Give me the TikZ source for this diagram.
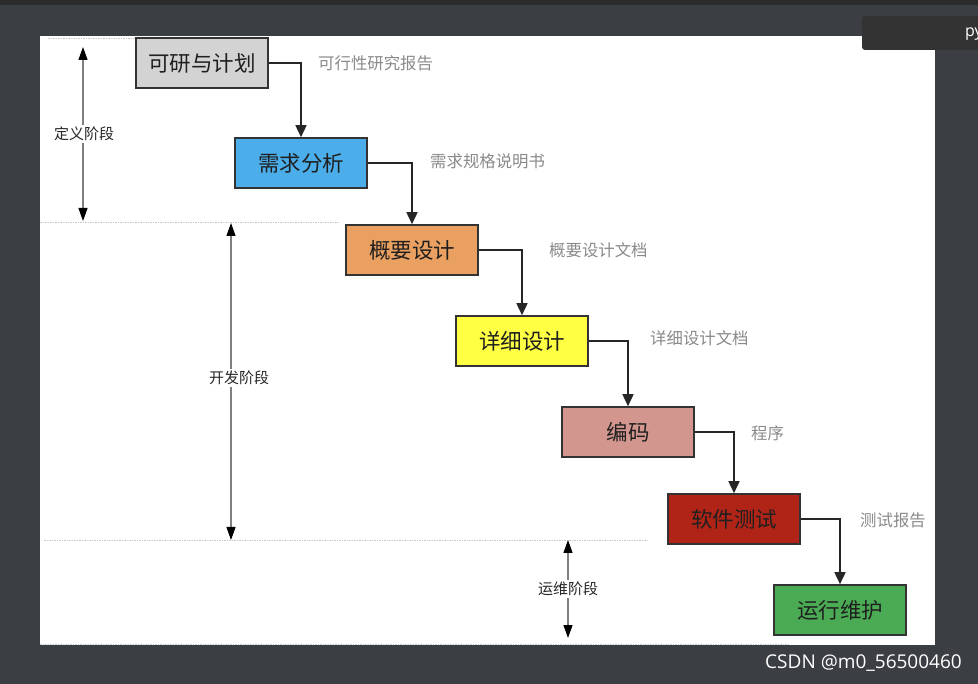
\documentclass[tikz,border=0pt]{standalone}
\usepackage{fontspec}
\newfontfamily\cjk{Noto Sans CJK SC}
\newfontfamily\wmfont{Open Sans}
\usetikzlibrary{arrows.meta}
\definecolor{bgdark}{HTML}{3B3E43}
\definecolor{topstrip}{HTML}{2B2B2B}
\definecolor{tabcol}{HTML}{333333}
\definecolor{cgray}{HTML}{D3D3D3}
\definecolor{cblue}{HTML}{4BADE9}
\definecolor{corange}{HTML}{EAA060}
\definecolor{cyellow}{HTML}{FFFF44}
\definecolor{cpink}{HTML}{D3968F}
\definecolor{cred}{HTML}{B02418}
\definecolor{cgreen}{HTML}{4BAB55}
\definecolor{lblgray}{HTML}{8A8A8A}
\definecolor{dashgray}{HTML}{C8C8C8}
\tikzset{
  stagebox/.style={draw=black!80, line width=1.6pt, minimum width=132pt, minimum height=50pt,
    inner sep=0pt, font=\cjk\fontsize{21.5}{21.5}\selectfont, text=black!88},
  docl/.style={font=\cjk\fontsize{16.4}{16.4}\selectfont, text=lblgray, anchor=west, inner sep=0pt},
  flow/.style={draw=black!85, line width=1.6pt, -{Triangle[width=11pt,length=12pt]}},
  phase/.style={draw=black!50, line width=1.2pt, {Triangle[width=9pt,length=13pt,fill=black,color=black]}-{Triangle[width=9pt,length=13pt,fill=black,color=black]}},
  phasel/.style={font=\cjk\fontsize{15}{15}\selectfont, fill=white, inner sep=2pt, text=black!85},
  sep/.style={draw=dashgray, line width=0.8pt, dash pattern=on 1.5pt off 1pt}
}
\begin{document}
\begin{tikzpicture}[x=1pt,y=-1pt]
\useasboundingbox (0,0) rectangle (978,684);
\fill[bgdark] (0,0) rectangle (978,684);
\fill[topstrip] (0,0) rectangle (978,5);
\fill[white] (40,36) rectangle (935,645);
\fill[tabcol, rounded corners=3pt] (862,16) rectangle (990,50);
\node[font=\wmfont\fontsize{16}{16}\selectfont, text=white!80, anchor=west, inner sep=0pt] (tabtxt) at (965,34) {py};

% separators
\draw[sep] (48,38) -- (135,38);
\draw[sep] (40,222) -- (338,222);
\draw[sep] (44,540) -- (648,540);
\draw[sep] (40,644) -- (790,644);

% stage boxes
\node[stagebox, fill=cgray]   (s1) at (202,63)  {可研与计划};
\node[stagebox, fill=cblue]   (s2) at (301,163) {需求分析};
\node[stagebox, fill=corange] (s3) at (412,250) {概要设计};
\node[stagebox, fill=cyellow] (s4) at (522,341) {详细设计};
\node[stagebox, fill=cpink]   (s5) at (628,432) {编码};
\node[stagebox, fill=cred]    (s6) at (734,519) {软件测试};
\node[stagebox, fill=cgreen]  (s7) at (840,610) {运行维护};

% flow arrows
\draw[flow] (s1.east) -| (s2.north);
\draw[flow] (s2.east) -| (s3.north);
\draw[flow] (s3.east) -| (s4.north);
\draw[flow] (s4.east) -| (s5.north);
\draw[flow] (s5.east) -| (s6.north);
\draw[flow] (s6.east) -| (s7.north);

% documents
\node[docl] (d1) at (318,63)  {可行性研究报告};
\node[docl] (d2) at (430,161) {需求规格说明书};
\node[docl] (d3) at (549,250) {概要设计文档};
\node[docl] (d4) at (650,338) {详细设计文档};
\node[docl] (d5) at (751,433) {程序};
\node[docl] (d6) at (860,520) {测试报告};

% phases
\coordinate (p1a) at (83,47);
\coordinate (p1b) at (83,221);
\coordinate (p2a) at (231,223);
\coordinate (p2b) at (231,540);
\coordinate (p3a) at (568,540);
\coordinate (p3b) at (568,638);
\draw[phase] (p1a) -- (p1b);
\draw[phase] (p2a) -- (p2b);
\draw[phase] (p3a) -- (p3b);
\node[phasel] (l1) at (84,134) {定义阶段};
\node[phasel] (l2) at (239,378) {开发阶段};
\node[phasel] (l3) at (568,589) {运维阶段};

% watermark
\node[font=\wmfont\fontsize{19}{19}\selectfont, text=white!82, anchor=east, inner sep=0pt] (wm) at (962,663) {CSDN @m0\_56500460};
\end{tikzpicture}
\end{document}
